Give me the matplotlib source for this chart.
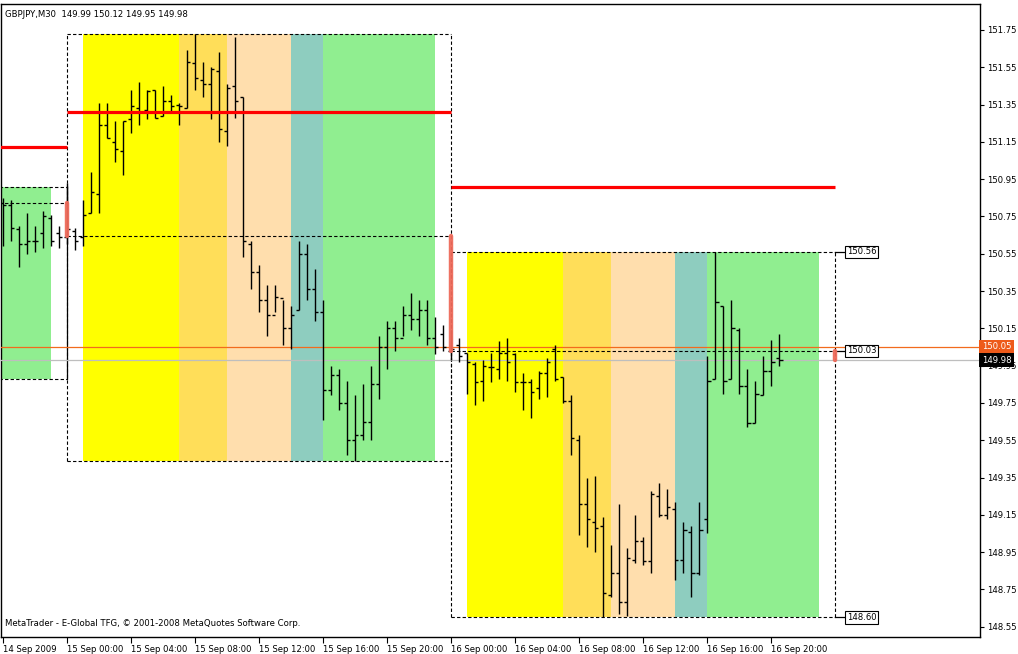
import matplotlib
matplotlib.use('Agg')
import matplotlib.pyplot as plt

# GBPJPY M30 bars, index 0 = 15 Sep 00:00, one step = 30 min
bar_index = list(range(-8, 90))
opens = [150.82, 150.81, 150.68, 150.60, 150.62, 150.66, 150.74, 150.66,
         150.64, 150.67, 150.64, 150.77, 150.87, 151.24, 151.15, 151.10,
         151.27, 151.33, 151.32, 151.43, 151.29, 151.37, 151.35, 151.33,
         151.57, 151.48, 151.46, 151.53, 151.21, 151.45, 151.39, 150.60,
         150.45, 150.30, 150.22, 150.31, 150.15, 150.25, 150.55, 150.36,
         150.24, 149.82, 149.90, 149.75, 149.55, 149.58, 149.65, 149.85,
         150.05, 150.15, 150.10, 150.22, 150.20, 150.25, 150.10, 150.12,
         150.03, 150.06, 150.02, 149.96, 149.87, 149.94, 149.93, 150.02,
         150.01, 149.86, 149.86, 149.83, 149.91, 150.04, 149.89, 149.76,
         149.55, 149.21, 149.11, 149.09, 148.72, 148.84, 148.68, 148.91,
         149.01, 148.90, 149.25, 149.15, 149.18, 148.91, 149.06, 148.84,
         149.13, 149.88, 150.27, 149.88, 150.14, 149.84, 149.64, 149.79,
         149.92, 149.99]
highs = [150.85, 150.84, 150.70, 150.77, 150.70, 150.78, 150.76, 150.70,
         150.93, 150.69, 150.84, 150.99, 151.36, 151.36, 151.26, 151.26,
         151.43, 151.47, 151.43, 151.43, 151.45, 151.40, 151.36, 151.64,
         151.73, 151.58, 151.55, 151.63, 151.46, 151.71, 151.39, 150.62,
         150.49, 150.38, 150.38, 150.30, 150.27, 150.62, 150.60, 150.47,
         150.30, 149.95, 149.93, 149.87, 149.79, 149.85, 149.95, 150.11,
         150.19, 150.19, 150.27, 150.34, 150.30, 150.30, 150.21, 150.17,
         150.14, 150.10, 150.02, 149.97, 149.98, 150.02, 150.08, 150.10,
         150.02, 149.91, 149.88, 149.92, 149.99, 150.06, 149.89, 149.79,
         149.58, 149.35, 149.36, 149.14, 148.99, 149.21, 148.97, 149.15,
         149.03, 149.28, 149.32, 149.29, 149.22, 149.11, 149.09, 149.22,
         150.00, 150.56, 150.27, 150.30, 150.15, 149.93, 149.87, 150.00,
         150.09, 150.12]
lows = [150.59, 150.62, 150.48, 150.55, 150.56, 150.58, 150.59, 150.58,
        150.60, 150.57, 150.59, 150.77, 150.77, 151.17, 151.04, 150.97,
        151.20, 151.24, 151.27, 151.28, 151.29, 151.31, 151.24, 151.33,
        151.43, 151.39, 151.27, 151.15, 151.13, 151.28, 150.53, 150.36,
        150.24, 150.11, 150.24, 150.06, 150.04, 150.25, 150.30, 150.19,
        149.66, 149.79, 149.71, 149.47, 149.44, 149.55, 149.55, 149.77,
        149.93, 150.03, 150.11, 150.14, 150.11, 150.06, 150.01, 150.03,
        149.98, 149.97, 149.80, 149.74, 149.76, 149.86, 149.88, 149.87,
        149.81, 149.71, 149.67, 149.77, 149.78, 149.87, 149.75, 149.47,
        149.04, 148.98, 148.95, 148.60, 148.71, 148.62, 148.61, 148.89,
        148.88, 148.84, 149.14, 149.13, 148.80, 148.84, 148.71, 148.83,
        149.05, 149.88, 149.80, 149.88, 149.80, 149.62, 149.64, 149.79,
        149.84, 149.95]
closes = [150.81, 150.69, 150.60, 150.62, 150.62, 150.75, 150.62, 150.64,
          150.68, 150.62, 150.76, 150.88, 151.24, 151.17, 151.11, 151.26,
          151.34, 151.31, 151.42, 151.28, 151.37, 151.34, 151.34, 151.58,
          151.49, 151.46, 151.54, 151.22, 151.44, 151.37, 150.62, 150.45,
          150.30, 150.22, 150.32, 150.15, 150.22, 150.55, 150.36, 150.24,
          149.82, 149.90, 149.75, 149.55, 149.58, 149.65, 149.85, 150.05,
          150.15, 150.10, 150.22, 150.20, 150.25, 150.10, 150.05, 150.05,
          150.04, 150.00, 149.97, 149.86, 149.95, 149.94, 150.02, 149.97,
          149.86, 149.86, 149.81, 149.91, 149.97, 149.88, 149.76, 149.56,
          149.21, 149.13, 149.08, 148.73, 148.84, 148.68, 148.92, 149.01,
          148.90, 149.26, 149.15, 149.19, 148.91, 149.07, 148.84, 149.07,
          149.87, 150.29, 149.87, 150.15, 149.84, 149.64, 149.80, 149.92,
          149.97, 149.98]

# daily boxes: day start index, box high/low, open level, red level
day_start = [-48, 0, 48]
day_high = [150.91, 151.73, 150.56]
day_low = [149.88, 149.44, 148.60]
day_open = [150.82, 150.645, 150.03]
day_red = [151.12, 151.31, 150.91]
# sessions (hours from day start) and colours
sess_from = [1, 7, 10, 14, 16]
sess_to = [7, 10, 14, 16, 23]
sess_color = ['#FFFF00', '#FFDE59', '#FFDEAD', '#8ECDBF', '#90EE90']

ask_price = 150.05
bid_price = 149.98
box_labels = ['150.56', '150.03', '148.60']

xtick_pos = [-8, 0, 8, 16, 24, 32, 40, 48, 56, 64, 72, 80, 88]
xtick_lab = ['14 Sep 2009', '15 Sep 00:00', '15 Sep 04:00', '15 Sep 08:00',
             '15 Sep 12:00', '15 Sep 16:00', '15 Sep 20:00', '16 Sep 00:00',
             '16 Sep 04:00', '16 Sep 08:00', '16 Sep 12:00', '16 Sep 16:00',
             '16 Sep 20:00']
ytick_pos = [148.55, 148.75, 148.95, 149.15, 149.35, 149.55, 149.75, 149.95,
             150.15, 150.35, 150.55, 150.75, 150.95, 151.15, 151.35, 151.55,
             151.75]

FS = 6.1

W, H = 1018, 654
fig = plt.figure(figsize=(W / 100, H / 100), dpi=100)
ax = fig.add_axes([1 / W, 17 / H, 979 / W, 633 / H])
ax.set_xlim(-8.25, 114.1)
ax.set_ylim(148.495, 151.889)

dash = (0, (3, 2))
for k, d0 in enumerate(day_start):
    hi, lo = day_high[k], day_low[k]
    for a, b, col in zip(sess_from, sess_to, sess_color):
        ax.fill_between([d0 + 2 * a, d0 + 2 * b], lo, hi, color=col, lw=0, zorder=0)
    ax.plot([d0, d0 + 48], [hi, hi], color='black', lw=0.8, ls=dash, zorder=2)
    ax.plot([d0, d0 + 48], [lo, lo], color='black', lw=0.8, ls=dash, zorder=2)
    ax.plot([d0, d0 + 48], [day_open[k], day_open[k]], color='black', lw=0.8, ls=dash, zorder=2)
    if k > 0:
        ax.plot([d0, d0], [lo, hi], color='black', lw=0.8, ls=dash, zorder=2)
        ax.plot([d0 + 48, d0 + 48], [lo, hi], color='black', lw=0.8, ls=dash, zorder=2)
    ax.plot([d0, d0 + 48], [day_red[k], day_red[k]], color='#FF0000', lw=2.3, zorder=5,
            solid_capstyle='butt')
# right edge of the previous day box
ax.plot([0, 0], [day_low[0], day_high[0]], color='black', lw=0.9, zorder=2)

# open-gap markers
marker_lv = day_open + [bid_price]
for k in range(3):
    ax.plot([day_start[k] + 48] * 2, [marker_lv[k], marker_lv[k + 1]], color='#EE6A5A',
            lw=3.2, solid_capstyle='round', zorder=6, alpha=0.95)

# price lines
ax.axhline(ask_price, color='#F26B1D', lw=0.9, zorder=3)
ax.axhline(bid_price, color='#BEBEBE', lw=0.9, zorder=3)

# OHLC bars
ax.vlines(bar_index, lows, highs, color='black', lw=1.0, zorder=4)
ax.hlines(opens, [i - 0.42 for i in bar_index], bar_index, color='black', lw=1.0, zorder=4)
ax.hlines(closes, bar_index, [i + 0.42 for i in bar_index], color='black', lw=1.0, zorder=4)

# labels of last day's box
lab_lv = [day_high[2], day_open[2], day_low[2]]
for lv, txt in zip(lab_lv, box_labels):
    ax.plot([96, 97.4], [lv, lv], color='black', lw=0.9, zorder=5)
    ax.text(97.45, lv, txt, fontsize=FS, va='center', ha='left', zorder=7,
            bbox=dict(boxstyle='square,pad=0.2', fc='white', ec='black', lw=0.8))

# axes styling
for s in ax.spines.values():
    s.set_color('black')
    s.set_linewidth(1.0)
ax.yaxis.tick_right()
ax.set_yticks(ytick_pos)
ax.set_yticklabels(['%.2f' % v for v in ytick_pos])
ax.set_xticks(xtick_pos)
ax.set_xticklabels(xtick_lab)
for lbl in ax.get_xticklabels():
    lbl.set_ha('left')
ax.tick_params(axis='y', direction='out', length=3, width=0.8, labelsize=FS, pad=2)
ax.tick_params(axis='x', direction='out', length=4, width=0.8, labelsize=FS, pad=1.5)

# current price tags on the axis
ax.text(1.002, ask_price, '%.2f' % ask_price, transform=ax.get_yaxis_transform(),
        fontsize=FS, color='white', va='center', ha='left', zorder=10, clip_on=False,
        bbox=dict(boxstyle='square,pad=0.3', fc='#EE5A1A', ec='none'))
ax.text(1.002, bid_price, '%.2f' % bid_price, transform=ax.get_yaxis_transform(),
        fontsize=FS, color='white', va='center', ha='left', zorder=10, clip_on=False,
        bbox=dict(boxstyle='square,pad=0.3', fc='black', ec='none'))

ax.text(4 / 979, 1 - 6 / 633, 'GBPJPY,M30  149.99 150.12 149.95 149.98', transform=ax.transAxes,
        fontsize=FS, va='top', ha='left')
ax.text(4 / 979, 9 / 633, 'MetaTrader - E-Global TFG, \u00a9 2001-2008 MetaQuotes Software Corp.',
        transform=ax.transAxes, fontsize=FS, va='bottom', ha='left')

fig.savefig('out.png', dpi=100)
